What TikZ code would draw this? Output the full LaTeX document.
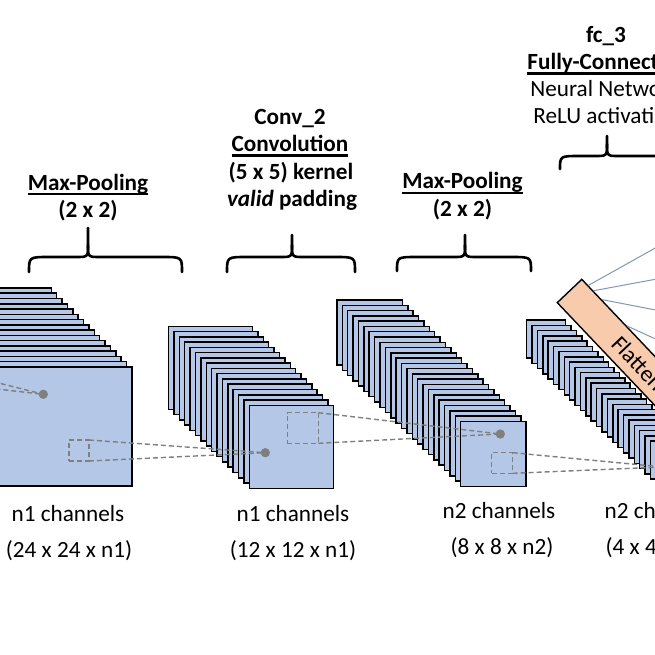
\documentclass[tikz,border=0pt]{standalone}
\usepackage{fontspec}
\setmainfont{Carlito}
\usetikzlibrary{calc}
\definecolor{layerblue}{HTML}{B4C7E7}
\definecolor{dashgray}{HTML}{7F7F7F}
\definecolor{flatorange}{HTML}{F8CBAD}
\definecolor{fcblue}{HTML}{8497B0}
\newcommand\ulbox[1]{\setbox0=\hbox{#1}\rlap{\vrule height -2.5pt depth 4.6pt width \wd0}\box0}
% #1 name, #2 front left x, #3 front top y, #4 width, #5 height, #6 number of layers minus one
\newcommand\layerstack[6]{%
  \foreach \k in {#6,...,0}{%
    \node[layer, minimum width=#4pt, minimum height=#5pt] (#1-\k) at ({#2-\k*5.38},{#3-\k*5.27}) {};
  }}
% #1 left x, #2 right x, #3 tip x, #4 end y, #5 shoulder y, #6 tip y
\newcommand\bracedraw[6]{%
  \draw[bracestroke] (#1,#4) .. controls (#1,#5) .. ({#1+20},#5) -- ({#3-12},#5) .. controls (#3,#5) .. (#3,{#5-12}) -- (#3,#6);
  \draw[bracestroke] (#3,{#5-12}) .. controls (#3,#5) .. ({#3+12},#5) -- ({#2-20},#5) .. controls (#2,#5) .. (#2,#4);}
\begin{document}
\begin{tikzpicture}[x=1pt,y=-1pt,
  layer/.style={draw=black, line width=1.5pt, fill=layerblue, anchor=north west, inner sep=0pt, outer sep=0pt, rectangle},
  dot/.style={circle, fill=dashgray, inner sep=0pt, minimum size=9pt},
  dbox/.style={draw=dashgray, line width=1.4pt, dash pattern=on 5pt off 3pt, anchor=north west, inner sep=0pt, outer sep=0pt, rectangle},
  dline/.style={draw=dashgray, line width=1.4pt, dash pattern=on 5pt off 3pt},
  bracestroke/.style={line width=2.6pt, line cap=round, line join=round},
  title/.style={anchor=base, inner sep=0pt, font=\fontsize{23.2}{27}\selectfont\bfseries},
  plain/.style={anchor=base, inner sep=0pt, font=\fontsize{23.2}{27}\selectfont},
  flat/.style={draw=black, line width=1.4pt, fill=flatorange, inner sep=0pt, rectangle},
  flattext/.style={inner sep=0pt, anchor=west, font=\fontsize{23.2}{27}\selectfont},
  fcl/.style={draw=fcblue, line width=1pt}]
\useasboundingbox (0,0) rectangle (655,655);
\clip (0,0) rectangle (655,655);

% feature map stacks
\layerstack{s1}{-40}{367}{172}{119}{15}
\layerstack{s2}{249.3}{405.3}{84}{83}{15}
\layerstack{s3}{460.7}{421.3}{65.5}{65}{23}
\layerstack{s4}{650.4}{441.2}{39}{38}{23}

% flatten box
\node[flat, rotate=-46.5, minimum width=217pt, minimum height=33.8pt] (flat) at (644.2,369.7) {};
\node[flattext, rotate=-46.5] (flatlabel) at ($(flat.west)!0.31!(flat.east)$) {Flattened};

% fully connected lines
\coordinate (f1) at ($(flat.north west)!0.044!(flat.north east)$);
\coordinate (f2) at ($(flat.north west)!0.078!(flat.north east)$);
\coordinate (f3) at ($(flat.north west)!0.134!(flat.north east)$);
\coordinate (f4) at ($(flat.north west)!0.30!(flat.north east)$);
\coordinate (n1) at (700,223);
\coordinate (n2) at (700,271);
\coordinate (n3) at (700,318.6);
\coordinate (n4) at (700,359.3);
\draw[fcl] (f1) -- (n1);
\draw[fcl] (f2) -- (n2);
\draw[fcl] (f3) -- (n3);
\draw[fcl] (f4) -- (n4);

% receptive fields
\node[dbox, minimum width=20pt, minimum height=21pt] (b1) at (69,440) {};
\node[dbox, minimum width=31pt, minimum height=30.6pt] (b2) at (287.3,412.7) {};
\node[dbox, minimum width=21pt, minimum height=20.6pt] (b3) at (491.7,452.7) {};
\coordinate (c1a) at (-100,358);
\coordinate (c1b) at (-100,378);
\node[dot] (d1) at (43.3,394.3) {};
\node[dot] (d2) at (265.3,452.7) {};
\node[dot] (d3) at (500.3,434) {};
\node[dot] (d4) at (663,467) {};
\draw[dline] (c1a) -- (d1.center);
\draw[dline] (c1b) -- (d1.center);
\draw[dline] (b1.north east) -- (d2.center);
\draw[dline] (b1.south east) -- (d2.center);
\draw[dline] (b2.north east) -- (d3.center);
\draw[dline] (b2.south east) -- (d3.center);
\draw[dline] (b3.north east) -- (d4.center);
\draw[dline] (b3.south east) -- (d4.center);
\node[dot] at (d1) {};
\node[dot] at (d2) {};
\node[dot] at (d3) {};

% braces
\bracedraw{29}{182}{88}{272}{257}{228}
\bracedraw{227}{355}{292}{272}{257}{235}
\bracedraw{397}{531}{465}{271}{257}{235}
\bracedraw{560}{720}{607}{169}{156}{136}

% titles
\node[title] (mp1a) at (88,190) {\ulbox{Max-Pooling}};
\node[title] (mp1b) at (88,217) {(2 x 2)};
\node[title] (cv1) at (290,125) {Conv\_2};
\node[title] (cv2) at (290,152) {\ulbox{Convolution}};
\node[title] (cv3) at (291,179) {(5 x 5) kernel};
\node[title] (cv4) at (292,206) {\textit{valid} padding};
\node[title] (mp2a) at (462.5,189) {\ulbox{Max-Pooling}};
\node[title] (mp2b) at (462.5,216) {(2 x 2)};
\node[title] (fc1) at (606,43) {fc\_3};
\node[title] (fc2) at (605,70) {\ulbox{Fully-Connected}};
\node[plain] (fc3) at (605,97) {Neural Network};
\node[plain] (fc4) at (606,124) {ReLU activation};

% bottom labels
\node[plain] (l1a) at (68,521) {n1 channels};
\node[plain] (l1b) at (69,557) {(24 x 24 x n1)};
\node[plain] (l2a) at (293,521) {n1 channels};
\node[plain] (l2b) at (293,557) {(12 x 12 x n1)};
\node[plain] (l3a) at (499,518) {n2 channels};
\node[plain] (l3b) at (502,554) {(8 x 8 x n2)};
\node[plain] (l4a) at (661,518) {n2 channels};
\node[plain] (l4b) at (657,554) {(4 x 4 x n2)};
\end{tikzpicture}
\end{document}
